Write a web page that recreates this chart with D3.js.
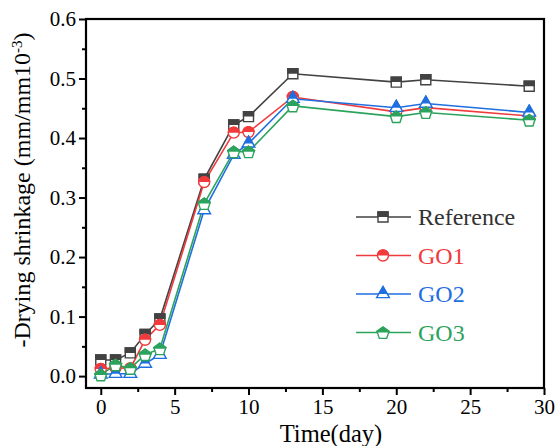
<!DOCTYPE html>
<html>
<head>
<meta charset="utf-8">
<script src="https://cdn.jsdelivr.net/npm/d3@7"></script>
<style>
  body { margin: 0; background: #fff; }
  svg, text, tspan { font-family: "Liberation Serif", "Times New Roman", serif; }
</style>
</head>
<body>
<script>
// DATA
var days = [0, 1, 2, 3, 4, 7, 9, 10, 13, 20, 22, 29];
var reference = [0.027, 0.027, 0.039, 0.070, 0.096, 0.331, 0.422, 0.436, 0.508, 0.494, 0.498, 0.487];
var go1 = [0.012, 0.014, 0.013, 0.061, 0.086, 0.326, 0.409, 0.410, 0.469, 0.444, 0.451, 0.437];
var go2 = [0.003, 0.004, 0.004, 0.021, 0.036, 0.279, 0.372, 0.391, 0.466, 0.451, 0.458, 0.443];
var go3 = [0.002, 0.019, 0.013, 0.036, 0.046, 0.290, 0.377, 0.377, 0.454, 0.436, 0.443, 0.430];
var seriesNames = ["Reference", "GO1", "GO2", "GO3"];
var xTicks = [0, 5, 10, 15, 20, 25, 30];
var yTicks = [0.0, 0.1, 0.2, 0.3, 0.4, 0.5, 0.6];

var colors = ["#424242", "#f03a3c", "#1f6fe0", "#2ca35c"];
var shapes = ["square", "circle", "triangle", "pentagon"];
var values = [reference, go1, go2, go3];
var serif = "'Liberation Serif', 'Times New Roman', serif";

// DIMENSIONS
var width = 557, height = 446;
var margin = {top: 19, right: 13, bottom: 58, left: 86};
var w = width - margin.left - margin.right;
var h = height - margin.top - margin.bottom;

var svg = d3.select("body").append("svg")
    .attr("width", width)
    .attr("height", height)
    .attr("font-family", serif);

// clip for top half filled markers
svg.append("defs").append("clipPath")
    .attr("id", "topHalf")
    .append("rect")
    .attr("x", -10).attr("y", -10).attr("width", 20).attr("height", 10);

var g = svg.append("g")
    .attr("transform", `translate(${margin.left}, ${margin.top})`);

// SCALES
var x = d3.scaleLinear().domain([-1, 30]).range([0, w]);
var y = d3.scaleLinear().domain([-0.02, 0.6]).range([h, 0]);

// MARKER PATHS
function markerPath(shape) {
    if (shape === "square") return d3.symbol(d3.symbolSquare, 100)();
    if (shape === "circle") return d3.symbol(d3.symbolCircle, 95)();
    if (shape === "triangle") return d3.symbol(d3.symbolTriangle, 70)();
    var r = 6.3, pts = [];
    for (var i = 0; i < 5; i++) {
        var a = -Math.PI / 2 + i * 2 * Math.PI / 5;
        pts.push([r * Math.cos(a), r * Math.sin(a) + 0.8]);
    }
    return "M" + pts.map(p => p.join(",")).join("L") + "Z";
}

function drawMarker(sel, shape, color) {
    var d = markerPath(shape);
    sel.append("path").attr("d", d)
        .attr("fill", "#fff").attr("stroke", color).attr("stroke-width", 1.4);
    sel.append("path").attr("d", d)
        .attr("fill", color).attr("stroke", color).attr("stroke-width", 1.4)
        .attr("clip-path", "url(#topHalf)");
}

// LINES
var line = d3.line()
    .x((d, i) => x(days[i]))
    .y(d => y(d));

values.forEach((vals, k) => {
    g.append("path")
        .datum(vals)
        .attr("fill", "none")
        .attr("stroke", colors[k])
        .attr("stroke-width", 1.6)
        .attr("d", line);
});

values.forEach((vals, k) => {
    g.selectAll(".m" + k)
        .data(vals)
        .enter()
        .append("g")
        .attr("transform", (d, i) => `translate(${x(days[i])}, ${y(d)})`)
        .each(function() { drawMarker(d3.select(this), shapes[k], colors[k]); });
});

// AXES
var xAxis = d3.axisBottom(x).tickValues(xTicks).tickSize(7).tickPadding(4).tickFormat(d3.format("d"));
var xMinor = d3.axisBottom(x).tickValues(d3.range(2.5, 30, 5)).tickSize(4).tickFormat("");
var yAxis = d3.axisLeft(y).tickValues(yTicks).tickSize(7).tickPadding(3).tickFormat(d3.format(".1f"));
var yMinor = d3.axisLeft(y).tickValues(d3.range(0.05, 0.6, 0.1)).tickSize(4).tickFormat("");

[
    g.append("g").attr("transform", `translate(0, ${h})`).call(xAxis),
    g.append("g").attr("transform", `translate(0, ${h})`).call(xMinor),
    g.append("g").call(yAxis),
    g.append("g").call(yMinor)
].forEach(a => {
    a.attr("font-family", serif).attr("font-size", 21);
    a.select(".domain").remove();
    a.selectAll("line").attr("stroke", "#000").attr("stroke-width", 2);
    a.selectAll("text").attr("fill", "#000");
});

// FRAME
g.append("rect")
    .attr("width", w).attr("height", h)
    .attr("fill", "none").attr("stroke", "#000").attr("stroke-width", 2.2);

// AXIS LABELS
svg.append("text")
    .attr("x", 331).attr("y", 442)
    .attr("text-anchor", "middle")
    .attr("font-size", 24.5)
    .text("Time(day)");

var yl = svg.append("text")
    .attr("transform", "translate(30, 190) rotate(-90)")
    .attr("text-anchor", "middle")
    .attr("font-size", 24);
yl.append("tspan").text("-Drying shrinkage (mm/mm10");
yl.append("tspan").attr("baseline-shift", "super").attr("font-size", 15).text("-3");
yl.append("tspan").text(")");

// LEGEND
var legend = svg.append("g").attr("transform", "translate(356, 217)");
seriesNames.forEach((name, k) => {
    var row = legend.append("g").attr("transform", `translate(0, ${k * 38.5})`);
    row.append("line").attr("x1", 0).attr("x2", 55)
        .attr("stroke", colors[k]).attr("stroke-width", 1.6);
    drawMarker(row.append("g").attr("transform", "translate(27, 0)"), shapes[k], colors[k]);
    row.append("text").attr("x", 62).attr("y", 8)
        .attr("font-size", 24).attr("fill", k === 0 ? "#333" : colors[k])
        .text(name);
});
</script>
</body>
</html>
